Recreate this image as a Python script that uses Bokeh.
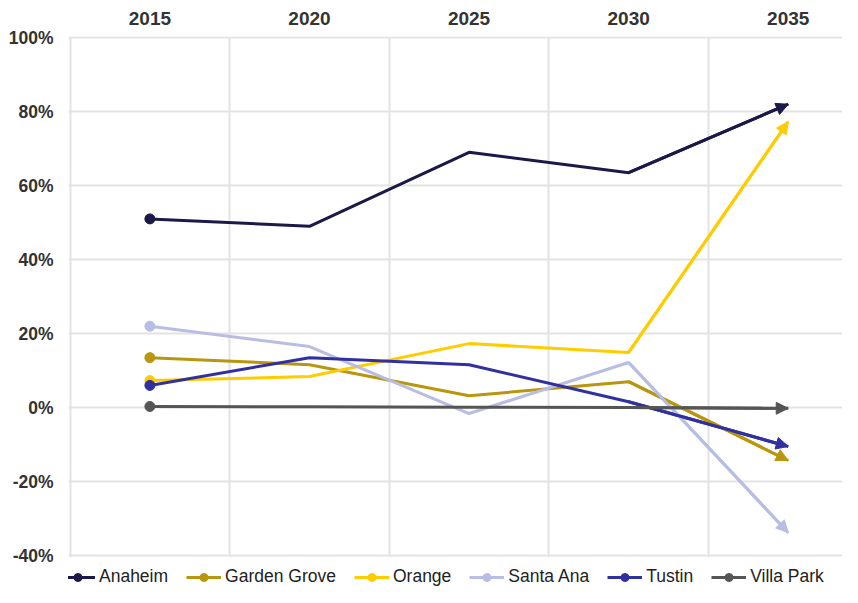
from bokeh.plotting import figure
from bokeh.models import (FixedTicker, NumeralTickFormatter, Range1d, Arrow, NormalHead,
                          Legend, LegendItem, BoxAnnotation)
from bokeh.embed import file_html
from bokeh.resources import INLINE

years = ["2015", "2020", "2025", "2030", "2035"]
cities = ["Anaheim", "Garden Grove", "Orange", "Santa Ana", "Tustin", "Villa Park"]
anaheim = [0.51, 0.49, 0.69, 0.635, 0.82]
garden_grove = [0.135, 0.116, 0.032, 0.07, -0.143]
orange = [0.073, 0.084, 0.173, 0.149, 0.773]
santa_ana = [0.22, 0.165, -0.016, 0.122, -0.338]
tustin = [0.06, 0.135, 0.116, 0.016, -0.105]
villa_park = [0.003, 0.002, 0.001, 0.0, -0.002]
colors = ["#1b1947", "#b8960e", "#ffcc00", "#b8bde3", "#3030a0", "#555555"]
y_ticks = [-0.4, -0.2, 0.0, 0.2, 0.4, 0.6, 0.8, 1.0]

series = [anaheim, garden_grove, orange, santa_ana, tustin, villa_park]
xs = [i + 0.5 for i in range(len(years))]
FONT = "Liberation Sans"

# frame extends below the -40% line to host the legend (covered by a white box)
p = figure(width=842, height=587, x_range=Range1d(-0.01, 4.84), y_range=Range1d(-0.4862, 1.003),
           x_axis_location="above", toolbar_location=None, output_backend="svg",
           min_border_left=68, min_border_right=0, min_border_top=36, min_border_bottom=0)
p.outline_line_color = None
p.background_fill_color = "white"
p.border_fill_color = "white"

# axes
p.xaxis.ticker = FixedTicker(ticks=xs)
p.xaxis.major_label_overrides = {x: y for x, y in zip(xs, years)}
p.xaxis.axis_line_color = None
p.xaxis.major_tick_line_color = None
p.xaxis.major_tick_out = 0
p.xaxis.major_tick_in = 0
p.xaxis.minor_tick_line_color = None
p.xaxis.major_label_text_font = FONT
p.xaxis.major_label_text_font_style = "bold"
p.xaxis.major_label_text_font_size = "19px"
p.xaxis.major_label_text_color = "#333333"
p.xaxis.major_label_standoff = 12

p.yaxis.ticker = FixedTicker(ticks=y_ticks)
p.yaxis.formatter = NumeralTickFormatter(format="0%")
p.yaxis.axis_line_color = None
p.yaxis.major_tick_line_color = None
p.yaxis.major_tick_out = 0
p.yaxis.major_tick_in = 0
p.yaxis.minor_tick_line_color = None
p.yaxis.major_label_text_font = FONT
p.yaxis.major_label_text_font_style = "bold"
p.yaxis.major_label_text_font_size = "17.5px"
p.yaxis.major_label_text_color = "#333333"
p.yaxis.major_label_standoff = 15

p.xgrid.ticker = FixedTicker(ticks=list(range(len(years) + 1)))
p.xgrid.grid_line_color = "#e3e3e3"
p.xgrid.grid_line_width = 2
p.ygrid.ticker = FixedTicker(ticks=y_ticks)
p.ygrid.grid_line_color = "#e3e3e3"
p.ygrid.grid_line_width = 2

# white area below the -40% line, where the legend sits
p.add_layout(BoxAnnotation(top=y_ticks[0] - 0.004, fill_color="white", fill_alpha=1.0,
                           line_alpha=0, level="annotation"))

items = []
for name, vals, c in zip(cities, series, colors):
    ln = p.line(xs, vals, line_color=c, line_width=3)
    ci = p.scatter([xs[0]], [vals[0]], marker="circle", size=10, fill_color=c, line_color=c)
    p.add_layout(Arrow(end=NormalHead(size=12, fill_color=c, line_color=c),
                       x_start=xs[-2], y_start=vals[-2], x_end=xs[-1], y_end=vals[-1],
                       line_color=c, line_width=3))
    items.append(LegendItem(label=name, renderers=[ln, ci]))

legend = Legend(items=items, orientation="horizontal", location=(-8, 0),
                border_line_alpha=0, background_fill_alpha=0,
                label_text_font=FONT, label_text_font_size="17.5px", label_text_color="#222222",
                glyph_width=35, glyph_height=20, label_height=20, label_standoff=4,
                spacing=18, padding=0, margin=0)
p.add_layout(legend, "center")

open("out.html", "w").write(file_html(p, INLINE))
